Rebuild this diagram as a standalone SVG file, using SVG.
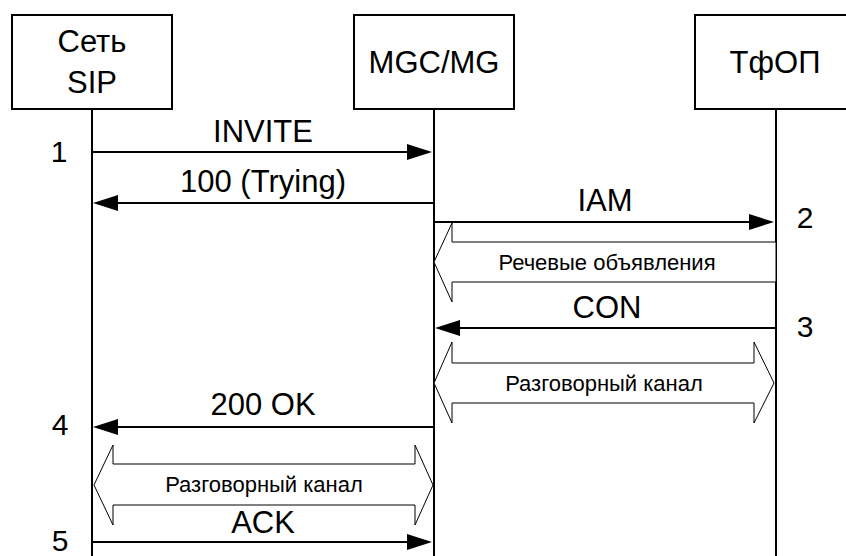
<svg xmlns="http://www.w3.org/2000/svg" width="846" height="556" viewBox="0 0 846 556">
<style>
.box{fill:#fff;stroke:#000;stroke-width:2}
.life{stroke:#000;stroke-width:2;fill:none}
.msg{stroke:#000;stroke-width:2;fill:none}
.head{fill:#000;stroke:none}
.blk{fill:#fff;stroke:#000;stroke-width:1}
text{font-family:"Liberation Sans",Arial,sans-serif;fill:#000}
.big{font-size:31px}
.sm{font-size:22px}
.num{font-size:30px}
</style>
<rect width="846" height="556" fill="#fff"/>
<g id="node-sip">
<rect class="box" x="12" y="15" width="160" height="94"/>
<text class="big" x="92" y="52" text-anchor="middle">Сеть</text>
<text class="big" x="92" y="93" text-anchor="middle">SIP</text>
</g>
<g id="node-mgc">
<rect class="box" x="354" y="15" width="160" height="94"/>
<text class="big" x="434" y="73" text-anchor="middle">MGC/MG</text>
</g>
<g id="node-pstn">
<rect class="box" x="695" y="15" width="160" height="94"/>
<text class="big" x="775" y="73" text-anchor="middle">ТфОП</text>
</g>
<g id="lifelines">
<line class="life" x1="92" y1="109" x2="92" y2="556"/>
<line class="life" x1="434" y1="109" x2="434" y2="556"/>
<line class="life" x1="776" y1="109" x2="776" y2="556"/>
</g>
<g id="connectors">
<line class="msg" x1="92" y1="152" x2="410" y2="152"/>
<polygon class="head" points="432,152 407,144 407,160"/>
<text class="big" x="263" y="142" text-anchor="middle">INVITE</text>

<line class="msg" x1="434" y1="203" x2="114" y2="203"/>
<polygon class="head" points="93,203 118,195 118,211"/>
<text class="big" x="263" y="192" text-anchor="middle">100 (Trying)</text>

<line class="msg" x1="434" y1="222" x2="752" y2="222"/>
<polygon class="head" points="774,222 749,214 749,230"/>
<text class="big" x="605" y="211" text-anchor="middle">IAM</text>

<polygon class="blk" points="776,242 452,242 452,223 434,262 452,302 452,282 776,282"/>
<text class="sm" x="607" y="270" text-anchor="middle">Речевые объявления</text>

<line class="msg" x1="776" y1="328" x2="456" y2="328"/>
<polygon class="head" points="435,328 460,320 460,336"/>
<text class="big" x="607" y="318" text-anchor="middle">CON</text>

<polygon class="blk" points="434,383 452,342 452,363 754,363 754,342 774,383 754,423 754,403 452,403 452,423"/>
<text class="sm" x="604" y="391" text-anchor="middle">Разговорный канал</text>

<line class="msg" x1="434" y1="427" x2="114" y2="427"/>
<polygon class="head" points="93,427 118,419 118,435"/>
<text class="big" x="263" y="415" text-anchor="middle">200 OK</text>

<polygon class="blk" points="94,485 113,445 113,464 415,464 415,445 433,485 415,525 415,505 113,505 113,525"/>
<text class="sm" x="264" y="492" text-anchor="middle">Разговорный канал</text>

<line class="msg" x1="92" y1="542" x2="410" y2="542"/>
<polygon class="head" points="432,542 407,534 407,550"/>
<text class="big" x="263" y="533" text-anchor="middle">ACK</text>
</g>
<g id="numbers">
<text class="num" x="59" y="162" text-anchor="middle">1</text>
<text class="num" x="805" y="228" text-anchor="middle">2</text>
<text class="num" x="805" y="337" text-anchor="middle">3</text>
<text class="num" x="60" y="435" text-anchor="middle">4</text>
<text class="num" x="60" y="551" text-anchor="middle">5</text>
</g>
</svg>
